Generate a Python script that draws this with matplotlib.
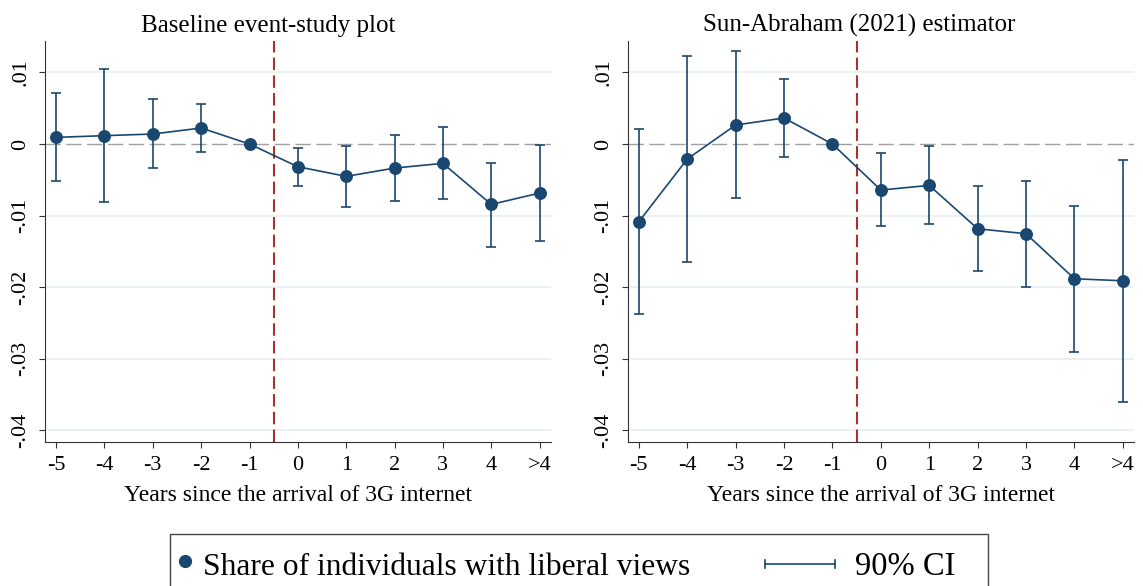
import os

os.environ.setdefault("MPLBACKEND", "Agg")

import matplotlib.pyplot as plt
from matplotlib.lines import Line2D
from matplotlib.patches import Rectangle

plt.rcParams["font.family"] = ["Liberation Serif", "DejaVu Serif"]

# event time labels (-1 is the omitted reference year)
periods = ["-5", "-4", "-3", "-2", "-1", "0", "1", "2", "3", "4", ">4"]

# baseline TWFE event study
base_coef = [0.00093, 0.00117, 0.0014, 0.00224, 0.0, -0.00317, -0.00452, -0.00336, -0.0027, -0.00844, -0.00685]
base_lo = [-0.00522, -0.00811, -0.00336, -0.00117, None, -0.00583, -0.00876, -0.00793, -0.00774, -0.01436, -0.01352]
base_hi = [0.00713, 0.01044, 0.00625, 0.00564, None, -0.00051, -0.00028, 0.00121, 0.00233, -0.00261, -0.0001]

# Sun & Abraham (2021) interaction-weighted estimator
sa_coef = [-0.01086, -0.0021, 0.00266, 0.00364, 0.0, -0.00643, -0.00578, -0.01184, -0.01254, -0.01883, -0.01911]
sa_lo = [-0.02378, -0.0165, -0.0076, -0.00182, None, -0.01152, -0.01119, -0.01776, -0.01995, -0.029, -0.03604]
sa_hi = [0.0021, 0.01235, 0.01296, 0.00914, None, -0.0013, -0.00033, -0.00583, -0.00513, -0.00862, -0.00219]

y_ticks = [0.01, 0.0, -0.01, -0.02, -0.03, -0.04]
y_ticklabels = [".01", "0", "-.01", "-.02", "-.03", "-.04"]

NAVY = "#1a476f"
RED = "#a8322d"
GRID = "#e6eef0"

W, H = 1143, 586


def px_box(x0, y0, x1, y1):
    """Pixel box (top-left origin) -> figure fraction rect."""
    return [x0 / W, 1 - y1 / H, (x1 - x0) / W, (y1 - y0) / H]


def panel(ax, coef, lo, hi):
    x = list(range(len(periods)))
    for yt in y_ticks:
        if yt != 0:
            ax.axhline(yt, color=GRID, lw=1.1, zorder=0)
    ax.axhline(0, color="#a0a0a0", lw=1.0, dashes=(11, 4), zorder=1)
    ax.axvline(4.5, color=RED, lw=1.5, dashes=(6, 2.5), zorder=2)

    ci_x = [i for i in x if lo[i] is not None]
    ci_c = [coef[i] for i in ci_x]
    ci_err = [[coef[i] - lo[i] for i in ci_x], [hi[i] - coef[i] for i in ci_x]]
    ax.errorbar(ci_x, ci_c, yerr=ci_err, fmt="none", ecolor=NAVY,
                elinewidth=1.2, capsize=3.3, capthick=1.2, zorder=3)
    ax.plot(x, coef, color=NAVY, lw=1.2, marker="o", markersize=8.3,
            markerfacecolor=NAVY, markeredgecolor=NAVY, zorder=4)

    ax.set_xlim(-0.23, 10.23)
    ax.set_ylim(-0.0416, 0.0144)
    ax.set_xticks(x)
    ax.set_xticklabels(periods, fontsize=16)
    ax.set_yticks(y_ticks)
    ax.set_yticklabels(y_ticklabels, fontsize=16, rotation=90, va="center")
    ax.tick_params(axis="both", direction="out", length=4.5, width=0.8, color="#333333")
    ax.tick_params(axis="x", pad=6)
    ax.tick_params(axis="y", pad=6)
    for side in ("top", "right"):
        ax.spines[side].set_visible(False)
    for side in ("left", "bottom"):
        ax.spines[side].set_color("#333333")
        ax.spines[side].set_linewidth(0.8)


fig = plt.figure(figsize=(W / 100, H / 100), dpi=100)
ax1 = fig.add_axes(px_box(45, 41, 550.7, 441.7))
ax2 = fig.add_axes(px_box(627.7, 41, 1134, 441.7))

panel(ax1, base_coef, base_lo, base_hi)
panel(ax2, sa_coef, sa_lo, sa_hi)

fig.text(268 / W, 1 - 31.7 / H, "Baseline event-study plot", ha="center", va="baseline", fontsize=18)
fig.text(859 / W, 1 - 31.7 / H, "Sun-Abraham (2021) estimator", ha="center", va="baseline", fontsize=18)
for cx in (297.9, 880.8):
    fig.text(cx / W, 1 - 501 / H, "Years since the arrival of 3G internet",
             ha="center", va="baseline", fontsize=17)

# legend drawn in figure pixels
fig.patches.append(Rectangle((170 / W, -0.05), (988 - 170) / W, 1 - 534.3 / H + 0.05,
                             transform=fig.transFigure, fill=False, edgecolor="#444444", lw=1.0))
fig.add_artist(Line2D([185 / W], [1 - 561 / H], transform=fig.transFigure, marker="o",
                      markersize=8.5, color=NAVY, ls="none"))
fig.text(203 / W, 1 - 575 / H, "Share of individuals with liberal views", ha="left", va="baseline", fontsize=22.7)
y_ci = 1 - 564 / H
fig.add_artist(Line2D([765 / W, 835 / W], [y_ci, y_ci], transform=fig.transFigure, color=NAVY, lw=1.2))
for xc in (765, 835):
    fig.add_artist(Line2D([xc / W, xc / W], [y_ci - 4 / H, y_ci + 4 / H], transform=fig.transFigure,
                          color=NAVY, lw=1.2))
fig.text(855 / W, 1 - 575 / H, "90% CI", ha="left", va="baseline", fontsize=23.5)

fig.savefig("out.png", dpi=100)
plt.close(fig)
